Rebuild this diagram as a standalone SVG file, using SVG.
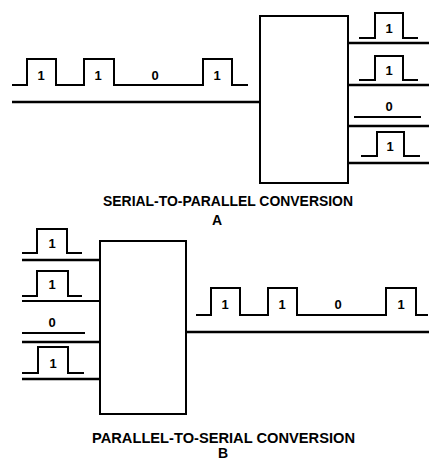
<svg xmlns="http://www.w3.org/2000/svg" width="429" height="461" viewBox="0 0 429 461">
<style>
.sig{fill:none;stroke:#000;stroke-width:2}
.bus{fill:none;stroke:#000;stroke-width:2.6}
.box{fill:#fff;stroke:#000;stroke-width:2}
.bit{font-family:"Liberation Sans",Arial,sans-serif;font-weight:bold;font-size:13px;text-anchor:middle}
.cap{font-family:"Liberation Sans",Arial,sans-serif;font-weight:bold;font-size:14px}
</style>
<rect width="429" height="461" fill="#fff"/>
<g id="connectors">
  <!-- A: serial input -->
  <path class="sig" d="M12,85 H27 V59 H56 V85 H84 V59 H114 V85 H203 V59 H232 V85 H248"/>
  <line class="bus" x1="12" y1="102" x2="260" y2="102"/>
  <!-- A: parallel outputs -->
  <line class="bus" x1="348" y1="43" x2="429" y2="43"/>
  <line class="bus" x1="348" y1="85" x2="429" y2="85"/>
  <line class="bus" x1="348" y1="126" x2="429" y2="126"/>
  <line class="bus" x1="348" y1="163" x2="429" y2="163"/>
  <path class="sig" d="M359,38 H375 V13 H403 V38 H418"/>
  <path class="sig" d="M359,80 H375 V56 H403 V80 H418"/>
  <line class="sig" x1="354" y1="117" x2="421" y2="117"/>
  <path class="sig" d="M361,156 H377 V132 H404 V156 H420"/>
  <!-- B: parallel inputs -->
  <line class="bus" x1="22" y1="260" x2="100" y2="260"/>
  <line class="sig" x1="22" y1="301" x2="100" y2="301"/>
  <line class="bus" x1="22" y1="342" x2="100" y2="342"/>
  <line class="bus" x1="22" y1="379" x2="100" y2="379"/>
  <path class="sig" d="M22,253 H37 V229 H67 V253 H82"/>
  <path class="sig" d="M22,296 H37 V271 H68 V296 H82"/>
  <line class="sig" x1="22" y1="333" x2="85" y2="333"/>
  <path class="sig" d="M22,373 H38 V347 H68 V373 H84"/>
  <!-- B: serial output -->
  <line class="bus" x1="186" y1="332" x2="429" y2="332"/>
  <path class="sig" d="M196,315 H211 V288 H240 V315 H268 V288 H297 V315 H386 V288 H416 V315 H428"/>
</g>
<g id="converterA">
  <rect class="box" x="260" y="16" width="88" height="167"/>
</g>
<g id="converterB">
  <rect class="box" x="100" y="241" width="86" height="173"/>
</g>
<g id="labels">
  <text class="bit" x="41" y="80">1</text>
  <text class="bit" x="98" y="80">1</text>
  <text class="bit" x="155" y="80">0</text>
  <text class="bit" x="217" y="80">1</text>
  <text class="bit" x="389" y="33">1</text>
  <text class="bit" x="389" y="75">1</text>
  <text class="bit" x="389" y="111">0</text>
  <text class="bit" x="390" y="151">1</text>
  <text class="bit" x="52" y="248">1</text>
  <text class="bit" x="52" y="289">1</text>
  <text class="bit" x="52" y="327">0</text>
  <text class="bit" x="53" y="368">1</text>
  <text class="bit" x="225" y="309">1</text>
  <text class="bit" x="282" y="309">1</text>
  <text class="bit" x="338" y="309">0</text>
  <text class="bit" x="401" y="309">1</text>
  <text class="cap" x="103" y="206" textLength="250" lengthAdjust="spacingAndGlyphs">SERIAL-TO-PARALLEL CONVERSION</text>
  <text class="cap" x="217" y="225" text-anchor="middle" font-size="12">A</text>
  <text class="cap" x="92" y="443" font-size="13" textLength="263" lengthAdjust="spacingAndGlyphs">PARALLEL-TO-SERIAL CONVERSION</text>
  <text class="cap" x="223" y="457.5" text-anchor="middle" font-size="10">B</text>
</g>
</svg>
